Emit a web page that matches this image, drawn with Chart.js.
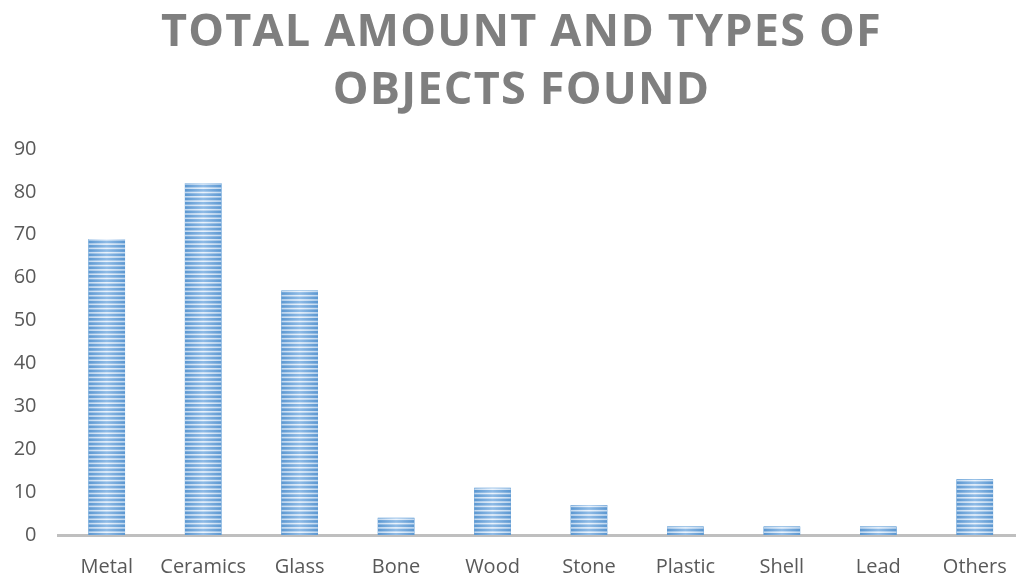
<!DOCTYPE html>
<html>
<head>
<meta charset="utf-8">
<script src="https://cdn.jsdelivr.net/npm/chart.js@4.4.1/dist/chart.umd.min.js"></script>
<style>
  html, body { margin: 0; padding: 0; background: #fff; overflow: hidden; }
  #wrap { position: relative; width: 1030px; height: 576px; }
</style>
</head>
<body>
<div id="wrap"><canvas id="chart"></canvas></div>
<script>
const categories = ['Metal', 'Ceramics', 'Glass', 'Bone', 'Wood', 'Stone', 'Plastic', 'Shell', 'Lead', 'Others'];
const objectCounts = [69, 82, 57, 4, 11, 7, 2, 2, 2, 13];
const titleLines = ['TOTAL AMOUNT AND TYPES OF', 'OBJECTS FOUND'];

// paints the striped fill over every bar, using the bar geometry from the chart
const stripedBars = {
    id: 'stripedBars',
    afterDatasetsDraw(chart) {
        const ctx = chart.ctx;
        chart.getDatasetMeta(0).data.forEach(function (bar) {
            const p = bar.getProps(['x', 'y', 'base', 'width'], true);
            const left = p.x - p.width / 2;
            const top = Math.min(p.y, p.base);
            const h = Math.abs(p.base - p.y);
            ctx.save();
            ctx.beginPath();
            ctx.rect(left, top, p.width, h);
            ctx.clip();

            const g = ctx.createLinearGradient(left, 0, left + p.width, 0);
            g.addColorStop(0, '#5b97d1');
            g.addColorStop(0.5, '#8fbbe6');
            g.addColorStop(1, '#5b97d1');
            ctx.fillStyle = g;
            ctx.fillRect(left, top, p.width, h);

            const lg = ctx.createLinearGradient(left, 0, left + p.width, 0);
            lg.addColorStop(0, 'rgba(225,236,248,0.75)');
            lg.addColorStop(0.5, 'rgba(240,246,253,0.95)');
            lg.addColorStop(1, 'rgba(225,236,248,0.75)');
            ctx.fillStyle = lg;
            for (let yy = p.base - 2; yy > top - 4; yy -= 4.3) {
                ctx.fillRect(left, yy - 1.6, p.width, 1.6);
            }
            ctx.restore();
        });
    }
};

// letter spaced title, nudged right a little
const spacedTitle = {
    id: 'spacedTitle',
    afterLayout(chart) {
        const t = chart.titleBlock;
        if (!t || t._spaced) return;
        const draw = t.draw;
        t.draw = function () {
            chart.ctx.save();
            chart.ctx.letterSpacing = '1.2px';
            chart.ctx.translate(10, 0);
            draw.apply(this, arguments);
            chart.ctx.restore();
        };
        t._spaced = true;
    }
};

new Chart(document.getElementById('chart').getContext('2d'), {
    type: 'bar',
    data: {
        labels: categories,
        datasets: [{
            data: objectCounts,
            backgroundColor: '#5b9bd5',
            borderWidth: 0,
            barPercentage: 1,
            categoryPercentage: 0.38
        }]
    },
    plugins: [stripedBars, spacedTitle],
    options: {
        responsive: true,
        maintainAspectRatio: false,
        animation: false,
        layout: { padding: { left: 0, right: 7, top: 0, bottom: 0 } },
        plugins: {
            legend: { display: false },
            tooltip: { enabled: false },
            title: {
                display: true,
                text: titleLines,
                color: '#7f7f7f',
                font: { family: 'Open Sans', size: 45, weight: 'bold', lineHeight: '58px' },
                padding: { top: 4, bottom: 29 }
            }
        },
        scales: {
            x: {
                z: 1,
                grid: { display: false, drawTicks: false },
                border: { display: true, color: '#bfbfbf', width: 3 },
                ticks: {
                    color: '#595959',
                    font: { family: 'Open Sans', size: 20 },
                    padding: 20,
                    maxRotation: 0
                },
                afterFit(scale) { scale.height = 41; }
            },
            y: {
                min: 0,
                max: 90,
                grid: { display: false, drawTicks: false },
                border: { display: false },
                ticks: {
                    stepSize: 10,
                    color: '#595959',
                    font: { family: 'Open Sans', size: 20 },
                    padding: 22
                },
                afterFit(scale) { scale.width = 58.5; }
            }
        }
    }
});
</script>
</body>
</html>
